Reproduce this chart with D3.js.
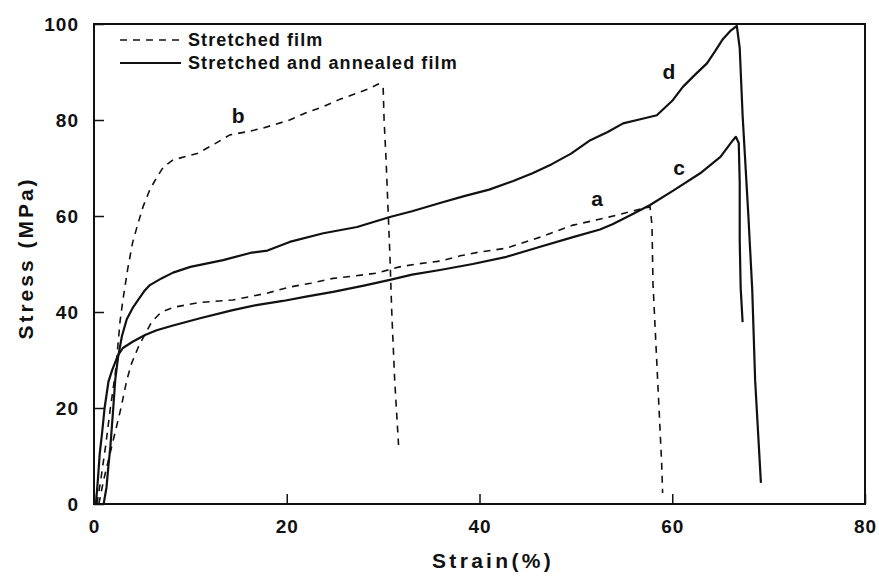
<!DOCTYPE html>
<html>
<head>
<meta charset="utf-8">
<script src="https://cdn.jsdelivr.net/npm/d3@7"></script>
<style>
  body { margin: 0; background: #fff; }
  text { font-family: Arial, "Liberation Sans", sans-serif; font-weight: bold; fill: #111; }
</style>
</head>
<body>
<div id="chart"></div>
<script>
// tick values
var xTicks = [0, 20, 40, 60, 80];
var yTicks = [0, 20, 40, 60, 80, 100];

// curve a - stretched film (dashed)
var strainA = [0.5, 1.0, 1.6, 2.2, 2.8, 3.4, 3.9, 4.6, 5.2, 6.0, 7.0, 8.3, 11, 14.4, 17.9, 20.3, 22.5, 24.8, 27, 29.3, 31.7, 33.5, 35.9, 38, 40, 42.8, 46.3, 49.7, 52.2, 54.3, 57, 57.7, 57.9, 58.0, 58.4, 58.9, 59.0];
var stressA = [0, 5, 10, 15, 20, 25.8, 29.3, 32.7, 35, 38, 40, 41, 42, 42.5, 43.9, 45.2, 46, 47, 47.5, 48.1, 49.4, 50, 50.6, 51.7, 52.5, 53.3, 55.6, 58.1, 59.2, 60.2, 61.6, 61.9, 58, 46, 29.4, 8.5, 2.3];

// curve b - stretched film (dashed)
var strainB = [0.3, 0.7, 1.2, 1.7, 2.2, 2.5, 2.7, 3.0, 3.5, 4.0, 4.5, 5.1, 5.8, 6.5, 7.2, 8.2, 10.7, 12.5, 14.1, 16, 17.5, 20.3, 22, 23.8, 25.5, 27.3, 28.5, 29.5, 30.0, 30.1, 30.3, 30.5, 30.7, 30.9, 31.2, 31.6];
var stressB = [0, 5, 12, 20, 27, 33.5, 38, 42.5, 49, 54.4, 58, 62, 65.5, 68, 70.2, 71.7, 73, 75, 76.9, 77.6, 78.3, 80, 81.5, 82.8, 84.3, 85.6, 86.5, 87.5, 87, 80, 72, 62, 52, 39.8, 25.8, 12.3];

// curve c - stretched and annealed film (solid)
var strainC = [0.2, 0.4, 0.6, 0.85, 1.1, 1.5, 1.9, 2.5, 3.0, 4.0, 5.3, 6.5, 8.2, 11, 14.4, 17, 19.6, 22, 24.8, 28, 30.7, 33, 35.9, 39.3, 42.8, 46.3, 49.7, 52.5, 53.8, 55.5, 57.7, 60.1, 62.9, 65, 66.3, 66.6, 66.9, 67.0, 67.0, 67.1, 67.3];
var stressC = [0, 5, 10.6, 15, 20, 25.5, 28, 31, 32.5, 33.8, 35.2, 36.2, 37.2, 38.7, 40.4, 41.5, 42.3, 43.2, 44.2, 45.5, 46.7, 47.8, 48.75, 50, 51.5, 53.6, 55.6, 57.2, 58.3, 60, 62.3, 65.3, 68.9, 72.3, 75.8, 76.5, 75.2, 67, 55, 45, 37.9];

// curve d - stretched and annealed film (solid)
var strainD = [1.0, 1.3, 1.5, 1.7, 2.0, 2.2, 2.5, 2.9, 3.4, 4.0, 4.6, 5.2, 5.8, 7.0, 8.2, 10, 13.4, 16.2, 18, 20.3, 23.8, 27.3, 30.7, 33, 35.9, 38.5, 41, 43.5, 45.5, 47.5, 49.5, 51.5, 53.3, 54.9, 56.8, 58.4, 60, 61.1, 62.4, 63.6, 64.4, 65.2, 66.0, 66.7, 67.0, 67.3, 67.7, 67.9, 68.3, 68.6, 69.2];
var stressD = [0, 3.5, 8, 12, 20, 25.8, 30.6, 35, 38.5, 40.8, 42.6, 44.3, 45.6, 47, 48.2, 49.4, 50.8, 52.3, 52.8, 54.6, 56.4, 57.7, 59.8, 61, 62.7, 64.2, 65.5, 67.3, 68.9, 70.8, 73, 75.8, 77.5, 79.3, 80.2, 81, 84, 86.9, 89.5, 91.8, 94.2, 96.7, 98.5, 99.6, 95, 81, 67, 60, 44.6, 25.8, 4.4];

// curve letters and where they sit (data units)
var curveLabels = ["a", "b", "c", "d"];
var labelStrain = [51.6, 14.3, 60.1, 59.0];
var labelStress = [62.1, 79.4, 68.6, 88.5];

var legendNames = ["Stretched film", "Stretched and annealed film"];

var width = 879, height = 576;
var margin = { left: 94, right: 14, top: 24, bottom: 72 };

var x = d3.scaleLinear().domain([0, 80]).range([margin.left, width - margin.right]);
var y = d3.scaleLinear().domain([0, 100]).range([height - margin.bottom, margin.top]);

var svg = d3.select('#chart')
    .append('svg')
    .attr('width', width)
    .attr('height', height);

// axes (ticks point inward)
var xAxis = d3.axisBottom(x).tickValues(xTicks).tickSize(-10).tickSizeOuter(0).tickPadding(16);
var yAxis = d3.axisLeft(y).tickValues(yTicks).tickSize(-10).tickSizeOuter(0).tickPadding(15);

var gx = svg.append('g')
    .attr('transform', 'translate(0,' + y(0) + ')')
    .call(xAxis);
var gy = svg.append('g')
    .attr('transform', 'translate(' + x(0) + ',0)')
    .call(yAxis);

[gx, gy].forEach(function (g) {
    g.select('.domain').remove();
    g.selectAll('line').attr('stroke', '#111').attr('stroke-width', 1.5);
    g.selectAll('text')
        .attr('fill', '#111')
        .style('font-size', '19px')
        .style('letter-spacing', '1px')
        .style('font-family', 'Arial, "Liberation Sans", sans-serif')
        .style('font-weight', 'bold');
});

// frame
svg.append('rect')
    .attr('x', x(0))
    .attr('y', y(100))
    .attr('width', x(80) - x(0))
    .attr('height', y(0) - y(100))
    .attr('fill', 'none')
    .attr('stroke', '#111')
    .attr('stroke-width', 2);

var line = d3.line()
    .x(function (d) { return x(d[0]); })
    .y(function (d) { return y(d[1]); });

function pairs(xs, ys) {
    return xs.map(function (v, i) { return [v, ys[i]]; });
}

var curves = [
    { pts: pairs(strainA, stressA), dashed: true },
    { pts: pairs(strainB, stressB), dashed: true },
    { pts: pairs(strainC, stressC), dashed: false },
    { pts: pairs(strainD, stressD), dashed: false }
];

svg.selectAll('path.curve')
    .data(curves)
    .enter()
    .append('path')
    .attr('class', 'curve')
    .attr('d', function (d) { return line(d.pts); })
    .attr('fill', 'none')
    .attr('stroke', '#111')
    .attr('stroke-width', function (d) { return d.dashed ? 1.6 : 2.2; })
    .attr('stroke-linejoin', 'round')
    .attr('stroke-dasharray', function (d) { return d.dashed ? '7,6' : null; });

// curve letters
svg.selectAll('text.lab')
    .data(curveLabels)
    .enter()
    .append('text')
    .attr('class', 'lab')
    .attr('x', function (d, i) { return x(labelStrain[i]); })
    .attr('y', function (d, i) { return y(labelStress[i]); })
    .style('font-size', '21px')
    .text(function (d) { return d; });

// legend
var legend = svg.append('g');
legendNames.forEach(function (name, i) {
    var ly = 40 + i * 23;
    legend.append('line')
        .attr('x1', 120).attr('x2', 181)
        .attr('y1', ly).attr('y2', ly)
        .attr('stroke', '#111')
        .attr('stroke-width', i == 0 ? 1.6 : 2)
        .attr('stroke-dasharray', i == 0 ? '7,6' : null);
    legend.append('text')
        .attr('x', 188)
        .attr('y', ly + 6)
        .style('font-size', '18px')
        .style('letter-spacing', '1.1px')
        .text(name);
});

// axis titles
svg.append('text')
    .attr('x', 493)
    .attr('y', 568)
    .attr('text-anchor', 'middle')
    .style('font-size', '21px')
    .style('letter-spacing', '3.3px')
    .text('Strain(%)');

svg.append('text')
    .attr('transform', 'translate(33,258) rotate(-90)')
    .attr('text-anchor', 'middle')
    .style('font-size', '21px')
    .style('letter-spacing', '3px')
    .text('Stress (MPa)');
</script>
</body>
</html>
